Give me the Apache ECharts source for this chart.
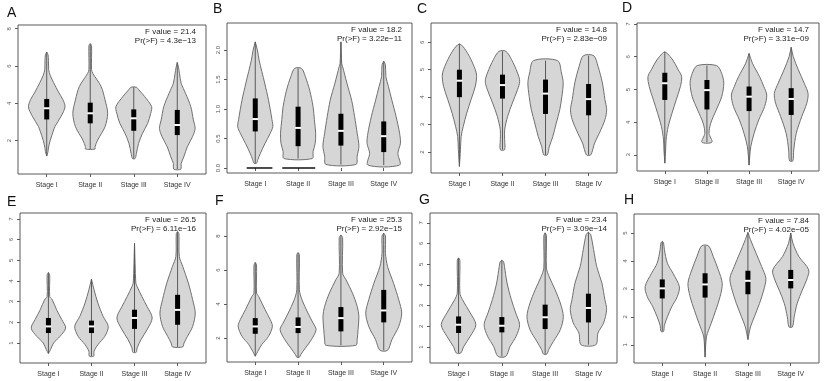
<!DOCTYPE html>
<html>
<head>
<meta charset="utf-8">
<script src="https://cdn.jsdelivr.net/npm/echarts@6/dist/echarts.min.js"></script>
<style>
  html, body { margin: 0; padding: 0; background: #fff; }
  #chart { width: 825px; height: 381px; }
</style>
</head>
<body>
<div id="chart"></div>
<script>
// ---- data ----
const stages = ['Stage I', 'Stage II', 'Stage III', 'Stage IV'];
const letters = ['A', 'B', 'C', 'D', 'E', 'F', 'G', 'H'];
const fValues = ['21.4', '18.2', '14.8', '14.7', '26.5', '25.3', '23.4', '7.84'];
const pValues = ['4.3e\u221213', '3.22e\u221211', '2.83e\u221209', '3.31e\u221209',
                 '6.11e\u221216', '2.92e\u221215', '3.09e\u221214', '4.02e\u221205'];
const yRanges = [[0.2, 8.2], [-0.085, 2.46], [1.24, 6.7], [2.51, 7.03],
                 [0.03, 7.29], [0.59, 9.35], [0.23, 7.48], [0.35, 5.68]];
const yTicks = [[2, 4, 6, 8], [0, 0.5, 1, 1.5, 2], [2, 3, 4, 5, 6], [3, 4, 5, 6, 7],
                [1, 2, 3, 4, 5, 6, 7], [2, 4, 6, 8], [1, 2, 3, 4, 5, 6, 7], [1, 2, 3, 4, 5]];

// violin outlines: [value, half width] from bottom to top; boxes: [q1, median, q3]
const violinA = [
  [[1.16,0],[1.4,0.03],[1.6,0.04],[2.0,0.08],[2.5,0.15],[2.75,0.19],[3.3,0.33],[3.8,0.42],[4.2,0.37],[4.6,0.27],[5.1,0.16],[5.5,0.08],[5.8,0.045],[6.3,0.04],[6.6,0.03],[6.75,0]],
  [[1.54,0.11],[1.66,0.11],[2.02,0.17],[2.74,0.34],[3.46,0.40],[4.18,0.34],[4.9,0.25],[5.6,0.06],[5.8,0.03],[7.1,0.03],[7.2,0]],
  [[1.03,0.03],[1.3,0.06],[1.84,0.11],[2.38,0.2],[2.92,0.32],[3.46,0.39],[3.82,0.41],[4.36,0.25],[4.71,0.12],[4.86,0.06]],
  [[0.46,0.08],[0.77,0.09],[1.12,0.15],[1.66,0.23],[2.2,0.35],[2.65,0.41],[3.1,0.37],[3.82,0.31],[4.53,0.19],[5.07,0.09],[5.61,0.05],[5.9,0.03],[6.19,0]]
];
const boxA = [[3.13,3.73,4.23],[2.92,3.46,4.03],[2.52,3.19,3.67],[2.29,2.83,3.64]];

const violinB = [
  [[0.08,0.03],[0.14,0.06],[0.25,0.12],[0.42,0.23],[0.59,0.35],[0.70,0.41],[0.82,0.39],[1.15,0.31],[1.44,0.22],[1.83,0.09],[2.0,0.05],[2.14,0]],
  [[0.16,0.33],[0.28,0.35],[0.42,0.40],[0.59,0.41],[0.82,0.38],[1.04,0.35],[1.32,0.27],[1.55,0.17],[1.69,0.08]],
  [[0.06,0.35],[0.2,0.38],[0.37,0.42],[0.59,0.38],[0.87,0.32],[1.15,0.25],[1.44,0.14],[1.72,0.04],[1.77,0.02],[2.14,0]],
  [[0.05,0.37],[0.25,0.33],[0.42,0.39],[0.59,0.37],[0.87,0.29],[1.15,0.19],[1.38,0.11],[1.55,0.05],[1.75,0.04],[1.81,0]]
];
const boxB = [[0.62,0.83,1.18],[0.37,0.68,1.04],[0.38,0.63,0.92],[0.27,0.54,0.79]];
const zeroBarsB = [[1, -0.2, 0.4], [2, -0.37, 0.4]]; // stage, from, to (offset from centre)

const violinC = [
  [[1.48,0],[2.09,0.025],[2.57,0.04],[2.94,0.09],[3.42,0.17],[3.91,0.27],[4.4,0.37],[4.76,0.40],[5.0,0.37],[5.49,0.23],[5.85,0.08],[5.94,0]],
  [[2.09,0.05],[2.45,0.05],[2.81,0.05],[3.3,0.12],[3.79,0.23],[4.27,0.35],[4.58,0.40],[4.88,0.35],[5.37,0.21],[5.67,0.08]],
  [[1.9,0.04],[2.21,0.09],[2.57,0.17],[3.06,0.25],[3.54,0.33],[4.03,0.38],[4.52,0.41],[4.88,0.37],[5.33,0.28]],
  [[1.9,0.05],[2.33,0.14],[2.69,0.25],[3.18,0.38],[3.54,0.42],[3.91,0.38],[4.52,0.32],[5.12,0.22],[5.51,0.12]]
];
const boxC = [[4.0,4.6,5.0],[3.95,4.44,4.82],[3.39,4.13,4.64],[3.34,3.93,4.48]];

const violinD = [
  [[2.75,0],[3.15,0.02],[3.46,0.03],[3.87,0.08],[4.27,0.17],[4.68,0.27],[5.09,0.37],[5.39,0.40],[5.6,0.32],[5.9,0.19],[6.1,0.06],[6.15,0]],
  [[3.39,0.12],[3.66,0.05],[3.97,0.09],[4.37,0.22],[4.78,0.35],[5.19,0.40],[5.49,0.35],[5.73,0.23]],
  [[2.69,0],[3.25,0.04],[3.66,0.12],[4.07,0.23],[4.48,0.37],[4.83,0.42],[5.09,0.35],[5.39,0.25],[5.8,0.08],[6.1,0]],
  [[2.82,0.04],[3.15,0.06],[3.66,0.12],[4.17,0.25],[4.58,0.37],[4.88,0.40],[5.19,0.31],[5.6,0.17],[6.0,0.05],[6.29,0]]
];
const boxD = [[4.68,5.19,5.51],[4.39,4.98,5.29],[4.34,4.78,5.09],[4.22,4.71,5.04]];

const violinE = [
  [[0.49,0],[0.68,0.05],[1.0,0.12],[1.32,0.27],[1.72,0.40],[2.13,0.31],[2.61,0.19],[3.09,0.09],[3.25,0.03],[4.3,0.03],[4.41,0]],
  [[0.36,0.05],[0.6,0.06],[0.92,0.15],[1.32,0.31],[1.8,0.39],[2.29,0.27],[2.93,0.15],[3.57,0.06],[4.09,0]],
  [[0.55,0.04],[0.76,0.06],[1.16,0.15],[1.64,0.29],[2.21,0.41],[2.77,0.29],[3.25,0.17],[3.73,0.06],[3.9,0.03],[5.83,0]],
  [[0.81,0.12],[1.0,0.15],[1.32,0.23],[1.8,0.35],[2.45,0.41],[3.09,0.35],[3.9,0.25],[4.7,0.12],[5.18,0.04],[6.3,0.03],[6.39,0]]
];
const boxE = [[1.48,1.8,2.21],[1.48,1.8,2.08],[1.68,2.21,2.61],[1.88,2.6,3.33]];

const violinF = [
  [[0.93,0],[1.22,0.06],[1.61,0.15],[2.1,0.31],[2.68,0.40],[3.08,0.35],[3.66,0.23],[4.44,0.08],[4.64,0.03],[6.3,0.03],[6.44,0]],
  [[0.87,0.03],[1.02,0.06],[1.41,0.17],[1.9,0.31],[2.49,0.42],[2.88,0.35],[3.47,0.23],[4.25,0.09],[4.83,0.03],[6.9,0.03],[7.02,0]],
  [[1.57,0.35],[1.9,0.38],[2.49,0.40],[3.27,0.42],[3.86,0.38],[4.64,0.27],[5.42,0.12],[5.81,0.04],[7.9,0.04],[8.06,0]],
  [[1.28,0.09],[1.9,0.19],[2.68,0.35],[3.47,0.42],[4.25,0.35],[5.22,0.23],[6.2,0.09],[6.98,0.04],[8.0,0.04],[8.16,0]]
];
const boxF = [[2.25,2.68,3.17],[2.29,2.65,3.21],[2.39,3.17,3.82],[2.92,3.62,4.83]];

const violinG = [
  [[0.71,0.05],[1.03,0.12],[1.52,0.27],[2.08,0.40],[2.65,0.27],[3.29,0.09],[3.61,0.03],[5.2,0.03],[5.31,0]],
  [[0.55,0.09],[1.03,0.19],[1.52,0.33],[2.08,0.41],[2.65,0.32],[3.29,0.22],[4.1,0.12],[4.9,0.06],[5.12,0.04],[5.2,0]],
  [[0.66,0.04],[0.87,0.08],[1.27,0.19],[1.84,0.35],[2.48,0.42],[3.13,0.35],[3.77,0.23],[4.42,0.09],[4.82,0.03],[6.4,0.03],[6.52,0]],
  [[1.11,0.17],[1.68,0.22],[2.16,0.35],[2.81,0.42],[3.29,0.38],[4.1,0.31],[4.9,0.19],[5.71,0.12],[6.45,0.05],[6.55,0]]
];
const boxG = [[1.68,2.08,2.48],[1.71,2.03,2.45],[1.87,2.44,3.05],[2.19,2.89,3.58]];

const violinH = [
  [[1.48,0.03],[1.7,0.05],[2.0,0.12],[2.36,0.22],[2.72,0.35],[3.08,0.40],[3.56,0.25],[3.92,0.12],[4.4,0.05],[4.65,0.03],[4.7,0]],
  [[0.56,0],[1.28,0.03],[1.52,0.08],[1.76,0.14],[2.24,0.25],[2.72,0.35],[3.2,0.40],[3.68,0.31],[4.16,0.19],[4.54,0.08]],
  [[1.19,0],[1.64,0.06],[2.0,0.15],[2.48,0.27],[2.96,0.37],[3.38,0.42],[3.8,0.32],[4.28,0.19],[4.76,0.06],[5.02,0]],
  [[1.64,0.04],[2.0,0.08],[2.48,0.15],[2.96,0.27],[3.32,0.37],[3.68,0.42],[4.16,0.19],[4.64,0.05],[5.0,0]]
];
const boxH = [[2.66,3.02,3.34],[2.69,3.16,3.56],[2.81,3.29,3.65],[3.02,3.32,3.68]];

const violins = [violinA, violinB, violinC, violinD, violinE, violinF, violinG, violinH];
const boxes = [boxA, boxB, boxC, boxD, boxE, boxF, boxG, boxH];

// ---- layout ----
const gridBoxes = [
  [18, 25, 188, 149], [227, 23, 185, 150], [431, 23, 186, 150], [637, 23, 182, 148],
  [20, 213, 186, 150], [227, 213, 185, 149], [430, 213, 187, 150], [634, 214, 185, 149]
];
const letterPos = [[7, 13], [213, 9], [417, 9], [622, 8.5], [7, 202.5], [215, 201.5], [419, 200], [624, 200]];
const FONT = 'Liberation Sans, Arial, sans-serif';

function violinRender(profiles, stats) {
  return function (params, api) {
    const i = params.dataIndex;
    const x = api.value(0);
    const prof = profiles[i];
    const right = prof.map(p => api.coord([x + p[1], p[0]]));
    const left = prof.slice().reverse().map(p => api.coord([x - p[1], p[0]]));
    const lo = api.coord([x, prof[0][0]]);
    const hi = api.coord([x, prof[prof.length - 1][0]]);
    const b = stats[i];
    const q1 = api.coord([x, b[0]]), md = api.coord([x, b[1]]), q3 = api.coord([x, b[2]]);
    return {
      type: 'group',
      children: [
        { type: 'polygon', shape: { points: right.concat(left), smooth: 0.3 },
          style: { fill: '#d6d6d6', stroke: '#707070', lineWidth: 1 } },
        { type: 'line', shape: { x1: lo[0], y1: lo[1], x2: hi[0], y2: hi[1] },
          style: { stroke: '#5a5a5a', lineWidth: 1 } },
        { type: 'rect', shape: { x: q1[0] - 2.5, y: q3[1], width: 5, height: q1[1] - q3[1] },
          style: { fill: '#000' } },
        { type: 'rect', shape: { x: md[0] - 3, y: md[1] - 1, width: 6, height: 2 },
          style: { fill: '#fff' } }
      ]
    };
  };
}

const grid = [], xAxis = [], yAxis = [], series = [], graphic = [];
gridBoxes.forEach((g, k) => {
  grid.push({ left: g[0], top: g[1], width: g[2], height: g[3], show: true,
              borderColor: '#5a5a5a', borderWidth: 1, backgroundColor: 'transparent' });
  xAxis.push({
    gridIndex: k, type: 'value', min: 0.34, max: 4.66,
    axisLine: { show: false }, splitLine: { show: false },
    axisTick: { show: true, customValues: [1, 2, 3, 4], length: 3, lineStyle: { color: '#5a5a5a' } },
    axisLabel: { customValues: [1, 2, 3, 4], margin: 8, fontSize: 7, color: '#333', fontFamily: FONT,
                 formatter: v => stages[Math.round(v) - 1] }
  });
  yAxis.push({
    gridIndex: k, type: 'value', min: yRanges[k][0], max: yRanges[k][1],
    axisLine: { show: false }, splitLine: { show: false },
    axisTick: { show: true, customValues: yTicks[k], length: 3, lineStyle: { color: '#5a5a5a' } },
    axisLabel: { customValues: yTicks[k], rotate: 90, margin: 6, fontSize: 6, color: '#555', fontFamily: FONT,
                 formatter: v => (k === 1 ? v.toFixed(1) : String(v)) }
  });
  series.push({
    type: 'custom', xAxisIndex: k, yAxisIndex: k, silent: true,
    renderItem: violinRender(violins[k], boxes[k]),
    data: boxes[k].map((b, i) => [i + 1, b[0], b[1], b[2]])
  });
  graphic.push({ type: 'text', left: letterPos[k][0], top: letterPos[k][1] - 7,
    style: { text: letters[k], fontSize: 14, fontFamily: FONT, fill: '#111' } });
  graphic.push({ type: 'text', x: g[0] + g[2] - 10, y: g[1] + 7,
    style: { text: 'F value = ' + fValues[k], fontSize: 8, fontFamily: FONT, fill: '#222',
             align: 'right', verticalAlign: 'middle' } });
  graphic.push({ type: 'text', x: g[0] + g[2] - 10, y: g[1] + 16,
    style: { text: 'Pr(>F) = ' + pValues[k], fontSize: 8, fontFamily: FONT, fill: '#222',
             align: 'right', verticalAlign: 'middle' } });
});

// black flat bars on the zero line in panel B
series.push({
  type: 'custom', xAxisIndex: 1, yAxisIndex: 1, silent: true,
  renderItem: function (params, api) {
    const a = api.coord([api.value(0) + api.value(1), 0]);
    const b = api.coord([api.value(0) + api.value(2), 0]);
    return { type: 'line', shape: { x1: a[0], y1: a[1], x2: b[0], y2: b[1] },
             style: { stroke: '#111', lineWidth: 1.5 } };
  },
  data: zeroBarsB
});

const chart = echarts.init(document.getElementById('chart'), null, { renderer: 'canvas' });
chart.setOption({ animation: false, grid, xAxis, yAxis, series, graphic });
</script>
</body>
</html>
